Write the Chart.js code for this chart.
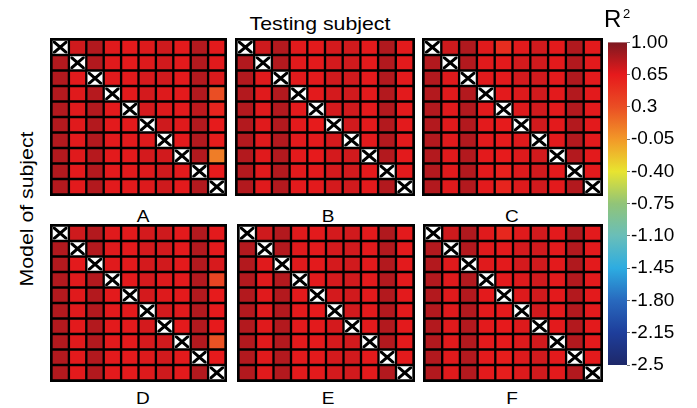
<!DOCTYPE html>
<html>
<head>
<meta charset="utf-8">
<script src="https://cdn.jsdelivr.net/npm/chart.js@4.4.1/dist/chart.umd.min.js"></script>
<style>
  html, body { margin: 0; padding: 0; background: #fff; }
  #fig { position: relative; width: 697px; height: 408px; overflow: hidden;
         font-family: "Liberation Sans", Arial, Helvetica, sans-serif; color: #000; }
  canvas.panel { position: absolute; background: #000; }
  canvas.cbar { position: absolute; }
  .lbl { position: absolute; white-space: nowrap; line-height: 1; }
</style>
</head>
<body>
<div id="fig"></div>
<script>
// Subjects (rows = model of subject, columns = testing subject)
const subjects = ['1', '2', '3', '4', '5', '6', '7', '8', '9', '10'];

// R² of each model tested on each subject; the diagonal is not evaluated.
const r2A = [
  [null, .73, .82, .67, .66, .68, .73, .66, .82, .66],
  [.82, null, .82, .67, .66, .68, .72, .66, .82, .67],
  [.82, .66, null, .67, .66, .70, .72, .66, .82, .69],
  [.82, .67, .81, null, .66, .71, .68, .66, .82, .30],
  [.82, .67, .82, .66, null, .71, .68, .66, .78, .58],
  [.82, .67, .82, .66, .66, null, .73, .67, .82, .64],
  [.82, .66, .82, .66, .66, .68, null, .66, .82, .63],
  [.82, .67, .81, .66, .66, .71, .72, null, .82, .08],
  [.82, .66, .82, .66, .66, .68, .73, .66, null, .64],
  [.82, .66, .82, .66, .66, .68, .73, .66, .82, null]
];
const r2B = [
  [null, .73, .82, .67, .66, .71, .72, .66, .83, .66],
  [.82, null, .82, .67, .66, .71, .72, .66, .82, .66],
  [.82, .67, null, .67, .66, .72, .72, .66, .82, .66],
  [.82, .67, .82, null, .66, .71, .72, .66, .82, .66],
  [.82, .67, .82, .66, null, .71, .72, .66, .82, .66],
  [.82, .67, .82, .66, .64, null, .72, .66, .82, .66],
  [.82, .67, .82, .66, .66, .71, null, .66, .82, .66],
  [.82, .67, .82, .66, .65, .71, .72, null, .82, .66],
  [.82, .67, .82, .66, .66, .71, .72, .66, null, .66],
  [.82, .67, .82, .66, .66, .71, .72, .66, .82, null]
];
const r2C = [
  [null, .73, .83, .67, .52, .67, .72, .66, .83, .66],
  [.82, null, .82, .67, .66, .71, .72, .66, .82, .66],
  [.82, .67, null, .67, .66, .71, .72, .66, .83, .66],
  [.82, .67, .82, null, .66, .68, .72, .66, .82, .66],
  [.82, .67, .82, .66, null, .68, .72, .66, .82, .66],
  [.82, .67, .82, .66, .64, null, .72, .66, .82, .66],
  [.82, .67, .82, .66, .64, .68, null, .66, .82, .66],
  [.82, .67, .82, .66, .64, .68, .72, null, .82, .66],
  [.82, .67, .82, .66, .60, .68, .72, .66, null, .66],
  [.82, .67, .82, .66, .58, .68, .72, .66, .82, null]
];
const r2D = [
  [null, .73, .82, .67, .66, .71, .73, .66, .82, .66],
  [.82, null, .82, .67, .66, .71, .72, .66, .82, .66],
  [.82, .66, null, .67, .66, .71, .72, .66, .82, .70],
  [.82, .67, .82, null, .66, .71, .68, .66, .82, .36],
  [.82, .67, .82, .66, null, .71, .68, .66, .82, .64],
  [.82, .67, .82, .66, .66, null, .72, .67, .82, .65],
  [.82, .66, .82, .66, .66, .71, null, .66, .82, .65],
  [.82, .67, .82, .66, .66, .71, .72, null, .82, .28],
  [.82, .66, .82, .66, .66, .68, .72, .66, null, .65],
  [.82, .66, .82, .66, .66, .68, .73, .66, .82, null]
];
const r2E = [
  [null, .73, .82, .67, .66, .71, .72, .66, .83, .66],
  [.82, null, .82, .67, .66, .71, .72, .66, .82, .66],
  [.82, .67, null, .67, .66, .71, .72, .66, .82, .66],
  [.82, .67, .82, null, .66, .71, .72, .66, .82, .66],
  [.82, .67, .82, .66, null, .71, .72, .66, .82, .66],
  [.82, .67, .82, .66, .65, null, .72, .66, .82, .66],
  [.82, .67, .82, .66, .66, .71, null, .66, .82, .66],
  [.82, .67, .82, .66, .66, .71, .72, null, .82, .66],
  [.82, .67, .82, .66, .66, .71, .72, .66, null, .66],
  [.82, .67, .82, .66, .66, .71, .72, .66, .82, null]
];
const r2F = [
  [null, .73, .83, .67, .56, .67, .72, .66, .83, .66],
  [.82, null, .82, .67, .66, .71, .72, .66, .82, .66],
  [.82, .67, null, .67, .66, .71, .72, .66, .83, .66],
  [.82, .67, .82, null, .66, .68, .72, .66, .82, .66],
  [.82, .67, .82, .66, null, .68, .72, .66, .82, .66],
  [.82, .67, .82, .66, .65, null, .72, .66, .82, .66],
  [.82, .67, .82, .66, .65, .68, null, .66, .82, .66],
  [.82, .67, .82, .66, .65, .68, .72, null, .82, .66],
  [.82, .67, .82, .66, .63, .68, .72, .66, null, .66],
  [.82, .67, .82, .66, .62, .68, .72, .66, .82, null]
];

const panelLabels = ['A', 'B', 'C', 'D', 'E', 'F'];
const panelData = [r2A, r2B, r2C, r2D, r2E, r2F];

// Colour bar scale
const cbarMin = -2.5;
const cbarMax = 1.0;
const cbarTicks = [1.00, 0.65, 0.30, -0.05, -0.40, -0.75, -1.10, -1.45, -1.80, -2.15, -2.50];
const cbarTickLabels = ['1.00', '0.65', '0.3', '-0.05', '-0.40', '-0.75', '-1.10', '-1.45', '-1.80', '-2.15', '-2.5'];

// Colour map (value -> rgb)
const colorStops = [
  [-2.50, [30, 40, 105]],
  [-2.15, [30, 62, 155]],
  [-1.80, [40, 105, 190]],
  [-1.45, [45, 172, 225]],
  [-1.10, [105, 190, 185]],
  [-0.75, [145, 196, 120]],
  [-0.40, [232, 228, 48]],
  [-0.05, [242, 152, 40]],
  [0.30, [234, 78, 36]],
  [0.65, [230, 26, 28]],
  [1.00, [125, 24, 32]]
];

function colorFor(v) {
  if (v <= colorStops[0][0]) return 'rgb(' + colorStops[0][1].join(',') + ')';
  for (let i = 1; i < colorStops.length; i++) {
    const [v1, c1] = colorStops[i];
    if (v <= v1) {
      const [v0, c0] = colorStops[i - 1];
      const f = (v - v0) / (v1 - v0);
      const c = c0.map((a, k) => Math.round(a + (c1[k] - a) * f));
      return 'rgb(' + c.join(',') + ')';
    }
  }
  return 'rgb(' + colorStops[colorStops.length - 1][1].join(',') + ')';
}

// Panel boxes on the page
const panelBoxes = [
  { x: 50, y: 38, w: 177, h: 158 },
  { x: 235, y: 38, w: 180, h: 158 },
  { x: 422, y: 38, w: 181, h: 158 },
  { x: 50, y: 224, w: 177, h: 158 },
  { x: 237, y: 224, w: 178, h: 158 },
  { x: 423, y: 224, w: 180, h: 158 }
];
const labelPos = [
  { x: 143, y: 216 }, { x: 328, y: 216 }, { x: 512, y: 216 },
  { x: 143, y: 398 }, { x: 328, y: 398 }, { x: 512, y: 398 }
];

const fig = document.getElementById('fig');
const CELL_BORDER = 1.5;

// Draws a cross over the diagonal (not evaluated) cells
const crossPlugin = {
  id: 'diagCross',
  afterDatasetsDraw(chart) {
    const ctx = chart.ctx;
    ctx.save();
    chart.data.datasets.forEach((ds, r) => {
      const el = chart.getDatasetMeta(r).data[r];
      if (!el) return;
      const p = el.getProps(['x', 'y', 'base', 'width'], true);
      const l = p.x - p.width / 2 + CELL_BORDER;
      const rr = p.x + p.width / 2 - CELL_BORDER;
      const t = Math.min(p.y, p.base) + CELL_BORDER;
      const b = Math.max(p.y, p.base) - CELL_BORDER;
      ctx.save();
      ctx.beginPath();
      ctx.rect(l, t, rr - l, b - t);
      ctx.clip();
      ctx.strokeStyle = '#000';
      ctx.lineWidth = 3;
      ctx.beginPath();
      ctx.moveTo(l, t); ctx.lineTo(rr, b);
      ctx.moveTo(rr, t); ctx.lineTo(l, b);
      ctx.stroke();
      ctx.restore();
    });
    ctx.restore();
  }
};

function addLabel(text, x, y, size, extra) {
  const d = document.createElement('div');
  d.className = 'lbl';
  d.textContent = text;
  d.style.fontSize = size + 'px';
  d.style.left = x + 'px';
  d.style.top = y + 'px';
  d.style.transform = 'translate(-50%, -50%) ' + (extra || '');
  fig.appendChild(d);
  return d;
}

panelData.forEach((matrix, p) => {
  const box = panelBoxes[p];
  const cv = document.createElement('canvas');
  cv.className = 'panel';
  cv.width = box.w; cv.height = box.h;
  cv.style.left = box.x + 'px'; cv.style.top = box.y + 'px';
  cv.style.width = box.w + 'px'; cv.style.height = box.h + 'px';
  fig.appendChild(cv);

  new Chart(cv, {
    type: 'bar',
    data: {
      labels: subjects,
      datasets: matrix.map((row, r) => ({
        label: subjects[r],
        data: row.map(() => 1),
        backgroundColor: row.map(v => (v === null ? '#ffffff' : colorFor(v))),
        borderColor: '#000',
        borderWidth: CELL_BORDER,
        borderSkipped: false,
        barPercentage: 1,
        categoryPercentage: 1
      }))
    },
    options: {
      responsive: false,
      animation: false,
      events: [],
      devicePixelRatio: 1,
      layout: { padding: CELL_BORDER },
      plugins: { legend: { display: false }, tooltip: { enabled: false } },
      scales: {
        x: { display: false, stacked: true },
        y: { display: false, stacked: true, reverse: true, min: 0, max: 10 }
      }
    },
    plugins: [crossPlugin]
  });

  addLabel(panelLabels[p], labelPos[p].x, labelPos[p].y, 17, 'scaleX(1.12)');
});

// Colour bar
const cb = document.createElement('canvas');
cb.className = 'cbar';
cb.width = 85; cb.height = 355;
cb.style.left = '608px'; cb.style.top = '30px';
cb.style.width = '85px'; cb.style.height = '355px';
fig.appendChild(cb);

const gradientPlugin = {
  id: 'cbarGradient',
  beforeDatasetsDraw(chart) {
    const { ctx, chartArea } = chart;
    const y = chart.scales.y;
    const y0 = y.getPixelForValue(cbarMin);
    const y1 = y.getPixelForValue(cbarMax);
    const g = ctx.createLinearGradient(0, y0, 0, y1);
    colorStops.forEach(([v, c]) => {
      g.addColorStop((v - cbarMin) / (cbarMax - cbarMin), 'rgb(' + c.join(',') + ')');
    });
    ctx.save();
    ctx.fillStyle = g;
    ctx.fillRect(chartArea.left, y1, chartArea.right - chartArea.left, y0 - y1);
    ctx.restore();
  }
};

new Chart(cb, {
  type: 'scatter',
  data: { datasets: [{ data: [] }] },
  options: {
    responsive: false,
    animation: false,
    events: [],
    devicePixelRatio: 1,
    layout: { padding: { top: 12, bottom: 20, left: 0, right: 0 } },
    plugins: { legend: { display: false }, tooltip: { enabled: false } },
    scales: {
      x: { display: false },
      y: {
        position: 'right',
        min: cbarMin,
        max: cbarMax,
        afterBuildTicks: axis => { axis.ticks = cbarTicks.map(v => ({ value: v })); },
        afterFit: axis => { axis.width = 66; },
        border: { display: false },
        grid: { drawOnChartArea: false, tickLength: 3, color: '#777', lineWidth: 1 },
        ticks: {
          autoSkip: false,
          padding: 1,
          color: '#000',
          font: { family: '"Liberation Sans", Arial, sans-serif', size: 19 },
          callback: value => {
            const i = cbarTicks.findIndex(t => Math.abs(t - value) < 1e-9);
            return i >= 0 ? cbarTickLabels[i] : '';
          }
        }
      }
    }
  },
  plugins: [gradientPlugin]
});

// Titles
addLabel('Testing subject', 320, 23, 19, 'scaleX(1.12)');
addLabel('Model of subject', 26, 209, 19, 'rotate(-90deg) scaleX(1.12)');
const rLbl = document.createElement('div');
rLbl.className = 'lbl';
rLbl.style.left = '604px'; rLbl.style.top = '7px'; rLbl.style.fontSize = '24px';
rLbl.textContent = 'R';
fig.appendChild(rLbl);
const sup = document.createElement('div');
sup.className = 'lbl';
sup.style.left = '623px'; sup.style.top = '7px'; sup.style.fontSize = '13px';
sup.textContent = '2';
fig.appendChild(sup);
</script>
</body>
</html>
